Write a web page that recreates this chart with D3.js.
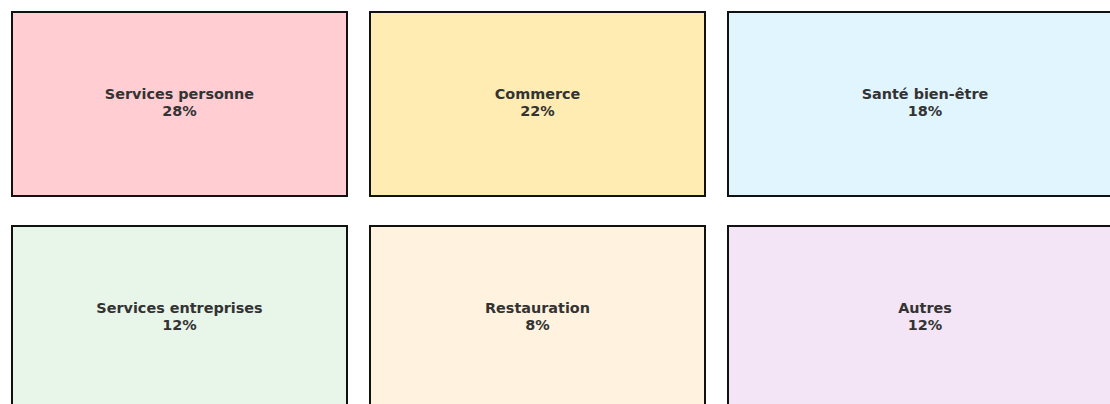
<!DOCTYPE html>
<html>
<head>
<meta charset="utf-8">
<script src="https://cdn.jsdelivr.net/npm/d3@7"></script>
<style>
  body { margin: 0; background: #fff; overflow: hidden; }
</style>
</head>
<body>
<script>
// Data
const sectors = ["Services personne", "Commerce", "Santé bien-être",
                 "Services entreprises", "Restauration", "Autres"];
const shares = [28, 22, 18, 12, 8, 12];
const palette = ["#ffcdd2", "#ffecb3", "#e1f5fe", "#e8f5e9", "#fff3e0", "#f3e5f5"];

// Canvas
const canvWidth = 1110, canvHeight = 404;
const svg = d3.select("body").append("svg")
    .attr("width", canvWidth)
    .attr("height", canvHeight);

// Grid layout: 3 columns, last one runs past the frame
const colWidths = [335, 335, 420];
const colGap = 23, rowGap = 30;
const rowHeight = 184;
const marginLeft = 12, marginTop = 12;
const colX = colWidths.map((w, i) => marginLeft + d3.sum(colWidths.slice(0, i)) + i * colGap);

const colorScale = d3.scaleOrdinal().domain(sectors).range(palette);

const tiles = svg.selectAll("g.tile")
    .data(sectors.map((s, i) => ({name: s, value: shares[i], col: i % 3, row: Math.floor(i / 3)})))
    .enter().append("g")
    .attr("class", "tile")
    .attr("transform", d => "translate(" + colX[d.col] + "," + (marginTop + d.row * (rowHeight + rowGap)) + ")");

tiles.append("rect")
    .attr("width", d => colWidths[d.col])
    .attr("height", rowHeight)
    .attr("fill", d => colorScale(d.name))
    .attr("stroke", "#111")
    .attr("stroke-width", 2);

// Labels: name + percentage
const label = tiles.append("text")
    .attr("x", d => d.col === 2 ? 925 - colX[2] : colWidths[d.col] / 2)
    .attr("y", rowHeight / 2)
    .attr("font-family", "DejaVu Sans, sans-serif")
    .attr("font-size", "14.4px")
    .attr("font-weight", "bold")
    .attr("fill", "#333")
    .style("text-anchor", "middle");

label.append("tspan")
    .attr("x", function() { return this.parentNode.getAttribute("x"); })
    .attr("dy", "-0.32em")
    .text(d => d.name);

label.append("tspan")
    .attr("x", function() { return this.parentNode.getAttribute("x"); })
    .attr("dy", "1.15em")
    .text(d => d.value + "%");
</script>
</body>
</html>
